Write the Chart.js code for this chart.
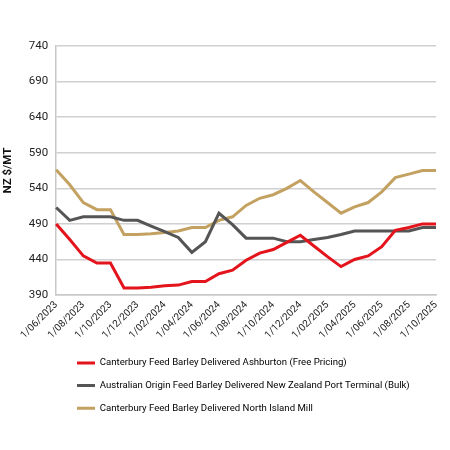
<!DOCTYPE html>
<html>
<head>
<meta charset="utf-8">
<script src="https://cdn.jsdelivr.net/npm/chart.js@4.4.1/dist/chart.umd.min.js"></script>
<style>
  html, body { margin: 0; padding: 0; background: #fff; }
  #wrap { width: 450px; height: 450px; }
</style>
</head>
<body>
<div id="wrap"><canvas id="grafica"></canvas></div>
<script>
// months, one point per month
const meses = [
    '1/06/2023', '1/07/2023', '1/08/2023', '1/09/2023', '1/10/2023', '1/11/2023', '1/12/2023',
    '1/01/2024', '1/02/2024', '1/03/2024', '1/04/2024', '1/05/2024', '1/06/2024', '1/07/2024',
    '1/08/2024', '1/09/2024', '1/10/2024', '1/11/2024', '1/12/2024', '1/01/2025', '1/02/2025',
    '1/03/2025', '1/04/2025', '1/05/2025', '1/06/2025', '1/07/2025', '1/08/2025', '1/09/2025',
    '1/10/2025'
];

const ashburton = [490, 468, 445, 435, 435, 400, 400, 401, 403, 404, 409, 409, 420, 425,
    439, 449, 454, 464, 474, 459, 444, 430, 440, 445, 458, 481, 485, 490, 490];

const australiana = [513, 495, 500, 500, 500, 495, 495, 487, 479, 471, 450, 465, 505, 489,
    470, 470, 470, 465, 465, 468, 471, 475, 480, 480, 480, 480, 480, 485, 485];

const islaNorte = [566, 545, 520, 510, 510, 475, 475, 476, 478, 480, 485, 485, 495, 500,
    516, 526, 531, 540, 551, 535, 520, 505, 514, 520, 535, 555, 560, 565, 565];

const nombres = [
    'Canterbury Feed Barley Delivered Ashburton (Free Pricing)',
    'Australian Origin Feed Barley Delivered New Zealand Port Terminal (Bulk)',
    'Canterbury Feed Barley Delivered North Island Mill'
];

const yMin = 390, yMax = 740, yPaso = 50;

// push the legend to the right a bit (chart.js only aligns to the left edge)
const moverLeyenda = {
    id: 'moverLeyenda',
    afterLayout(chart) {
        if (chart.legend) {
            chart.legend.left += 63;
            chart.legend.right += 63;
        }
    }
};

const fuente = "'Roboto', sans-serif";

function serie(label, data, color) {
    return {
        label: label,
        data: data,
        borderColor: color,
        backgroundColor: color,
        borderWidth: 3,
        pointRadius: 0,
        tension: 0,
        fill: false
    };
}

new Chart(document.getElementById('grafica'), {
    type: 'line',
    data: {
        labels: meses,
        datasets: [
            serie(nombres[0], ashburton, '#E3141B'),
            serie(nombres[1], australiana, '#555555'),
            serie(nombres[2], islaNorte, '#C3A161')
        ]
    },
    options: {
        responsive: true,
        maintainAspectRatio: false,
        animation: false,
        layout: { padding: { left: 1, right: 14, top: 46, bottom: 27 } },
        plugins: {
            tooltip: { enabled: false },
            legend: {
                position: 'bottom',
                align: 'start',
                labels: {
                    boxWidth: 18,
                    boxHeight: 3,
                    padding: 13,
                    color: '#222',
                    font: { family: fuente, size: 9.6 },
                    generateLabels(chart) {
                        return chart.data.datasets.map((ds, i) => ({
                            text: ds.label,
                            fillStyle: ds.borderColor,
                            strokeStyle: ds.borderColor,
                            lineWidth: 0,
                            hidden: false,
                            datasetIndex: i
                        }));
                    }
                }
            }
        },
        scales: {
            x: {
                offset: false,
                grid: { display: false, drawTicks: false },
                border: { display: true, color: '#c8c8c8', width: 1.5 },
                ticks: {
                    autoSkip: false,
                    maxRotation: 45,
                    minRotation: 45,
                    padding: 4,
                    color: '#222',
                    font: { family: fuente, size: 10 },
                    callback: function (val, i) {
                        return i % 2 === 0 ? meses[i] : '';
                    }
                }
            },
            y: {
                min: yMin,
                max: yMax,
                ticks: {
                    stepSize: yPaso,
                    padding: 8,
                    color: '#222',
                    font: { family: fuente, size: 11.5 }
                },
                grid: { color: '#d0d0d0', lineWidth: 1.5, drawTicks: false },
                border: { display: true, color: '#c8c8c8', width: 1.5 },
                title: {
                    display: true,
                    text: 'NZ $/MT',
                    color: '#111',
                    font: { family: fuente, size: 11.5, weight: 'bold' },
                    padding: { top: 0, bottom: 6 }
                }
            }
        }
    },
    plugins: [moverLeyenda]
});
</script>
</body>
</html>
